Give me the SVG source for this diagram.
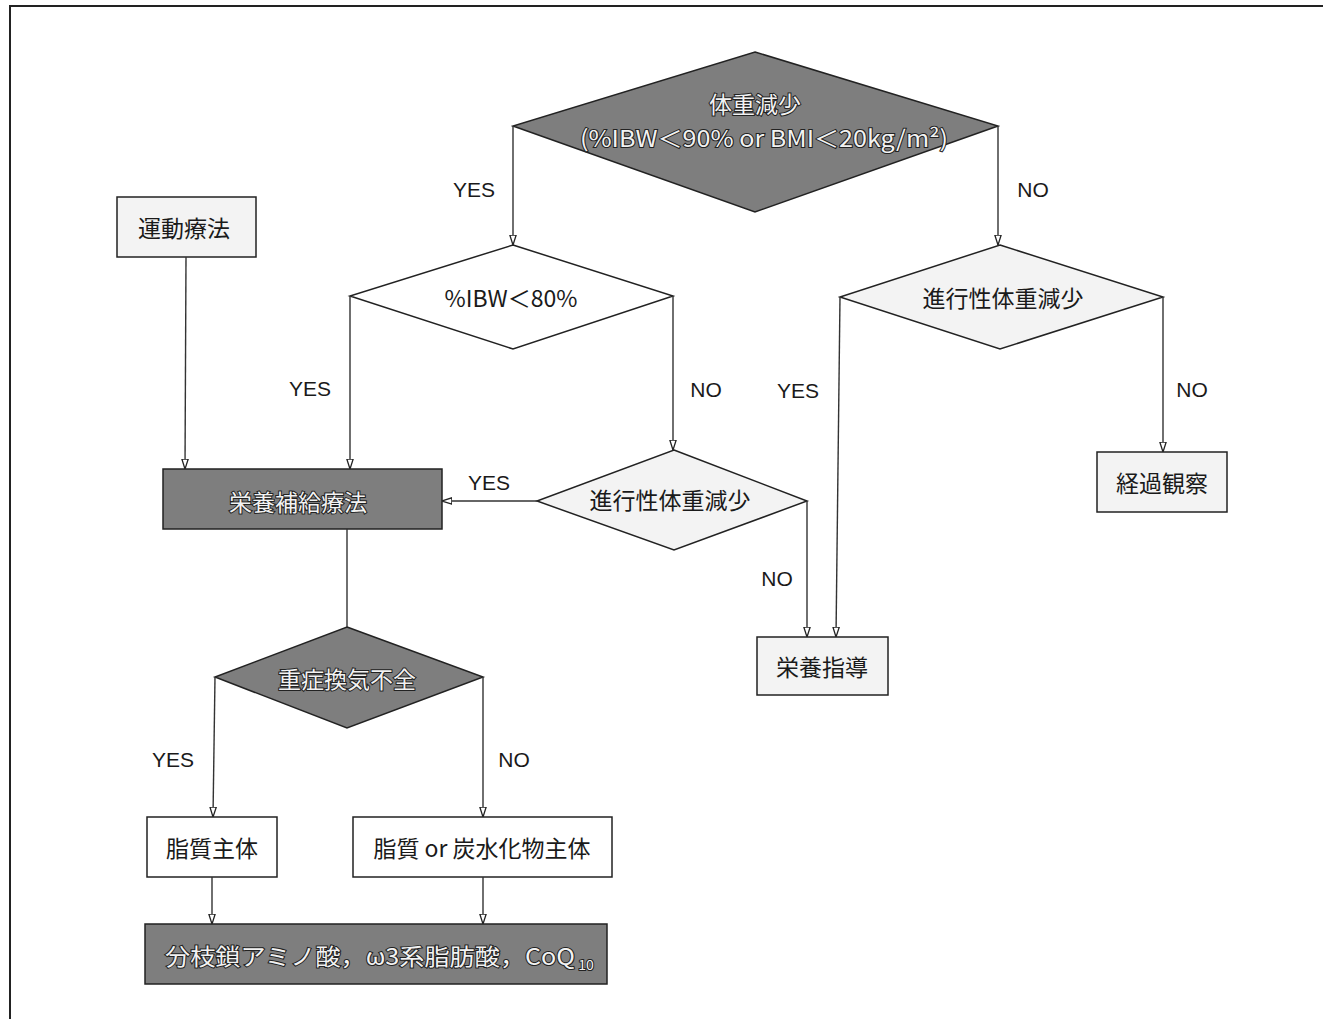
<svg xmlns="http://www.w3.org/2000/svg" width="1323" height="1019" viewBox="0 0 1323 1019">
<defs>
<marker id="arr" viewBox="0 0 10 10" refX="10" refY="5" markerWidth="10" markerHeight="8" orient="auto" markerUnits="userSpaceOnUse" preserveAspectRatio="none">
<path d="M0,1 L10,5 L0,9 z" fill="#fff" stroke="#222" stroke-width="1.6"/>
</marker>
</defs>
<style>
.frame{fill:none;stroke:#222;stroke-width:2}
.dark{fill:#7e7e7e;stroke:#222;stroke-width:1.5}
.light{fill:#f3f3f3;stroke:#222;stroke-width:1.5}
.white{fill:#fff;stroke:#222;stroke-width:1.5}
.jp{font-family:"Noto Sans CJK JP","Liberation Sans",sans-serif;font-size:23px;fill:#1a1a1a;text-anchor:middle;dominant-baseline:central}
.jpd{font-family:"Noto Sans CJK JP","Liberation Sans",sans-serif;font-size:23px;fill:#f2f2f2;stroke:#222;stroke-width:2;paint-order:stroke;text-anchor:middle;dominant-baseline:central}
.lbl{font-family:"Liberation Sans",Arial,sans-serif;font-size:21px;fill:#1a1a1a;text-anchor:middle;dominant-baseline:central}
.conn path{fill:none;stroke:#333;stroke-width:1.4}
</style>
<rect width="1323" height="1019" fill="#fff"/>
<path class="frame" d="M1323,6 L10,6 L10,1019"/>

<g id="n_weightloss">
<polygon class="dark" points="755,52 998,126 755,212 513,126"/>
<text class="jpd" x="755" y="103">体重減少</text>
<text class="jpd" x="764" y="137" textLength="368" lengthAdjust="spacingAndGlyphs">(%IBW＜90% or BMI＜20kg/m²)</text>
</g>

<g id="n_ibw80">
<polygon class="white" points="513,245 673,296 513,349 350,296"/>
<text class="jp" x="511" y="297">%IBW＜80%</text>
</g>

<g id="n_prog_right">
<polygon class="light" points="1000,245 1163,297 1000,349 840,297"/>
<text class="jp" x="1003" y="297">進行性体重減少</text>
</g>

<g id="n_prog_mid">
<polygon class="light" points="674,450 807,501 674,550 537,501"/>
<text class="jp" x="670" y="499">進行性体重減少</text>
</g>

<g id="n_exercise">
<rect class="light" x="117" y="197" width="139" height="60"/>
<text class="jp" x="184" y="227">運動療法</text>
</g>

<g id="n_supplement">
<rect class="dark" x="163" y="469" width="279" height="60"/>
<text class="jpd" x="298" y="501">栄養補給療法</text>
</g>

<g id="n_observe">
<rect class="light" x="1097" y="452" width="130" height="60"/>
<text class="jp" x="1162" y="482">経過観察</text>
</g>

<g id="n_guidance">
<rect class="light" x="757" y="637" width="131" height="58"/>
<text class="jp" x="822" y="666">栄養指導</text>
</g>

<g id="n_resp">
<polygon class="dark" points="347,627 483,677 347,728 215,677"/>
<text class="jpd" x="347" y="678">重症換気不全</text>
</g>

<g id="n_lipid">
<rect class="white" x="147" y="817" width="130" height="60"/>
<text class="jp" x="212" y="847">脂質主体</text>
</g>

<g id="n_lipid_carb">
<rect class="white" x="353" y="817" width="259" height="60"/>
<text class="jp" x="482" y="847">脂質 or 炭水化物主体</text>
</g>

<g id="n_bcaa">
<rect class="dark" x="145" y="924" width="462" height="60"/>
<text class="jpd" x="370" y="955" textLength="410" lengthAdjust="spacingAndGlyphs">分枝鎖アミノ酸，ω3系脂肪酸，CoQ</text>
<text class="jpd" x="586" y="964" style="font-size:14px">10</text>
</g>

<g class="conn" id="connectors">
<path d="M513,126 L513,245" marker-end="url(#arr)"/>
<path d="M998,126 L998,245" marker-end="url(#arr)"/>
<path d="M350,296 L350,469" marker-end="url(#arr)"/>
<path d="M673,296 L673,450" marker-end="url(#arr)"/>
<path d="M537,501 L442,501" marker-end="url(#arr)"/>
<path d="M807,501 L807,637" marker-end="url(#arr)"/>
<path d="M840,297 L836,637" marker-end="url(#arr)"/>
<path d="M1163,297 L1163,452" marker-end="url(#arr)"/>
<path d="M186,257 L185,469" marker-end="url(#arr)"/>
<path d="M347,529 L347,627"/>
<path d="M215,677 L213,817" marker-end="url(#arr)"/>
<path d="M483,677 L483,817" marker-end="url(#arr)"/>
<path d="M212,877 L212,924" marker-end="url(#arr)"/>
<path d="M483,877 L483,924" marker-end="url(#arr)"/>
</g>

<g id="labels">
<text class="lbl" x="474" y="189">YES</text>
<text class="lbl" x="1033" y="189">NO</text>
<text class="lbl" x="310" y="388">YES</text>
<text class="lbl" x="706" y="389">NO</text>
<text class="lbl" x="798" y="390">YES</text>
<text class="lbl" x="1192" y="389">NO</text>
<text class="lbl" x="489" y="482">YES</text>
<text class="lbl" x="777" y="578">NO</text>
<text class="lbl" x="173" y="759">YES</text>
<text class="lbl" x="514" y="759">NO</text>
</g>
</svg>
